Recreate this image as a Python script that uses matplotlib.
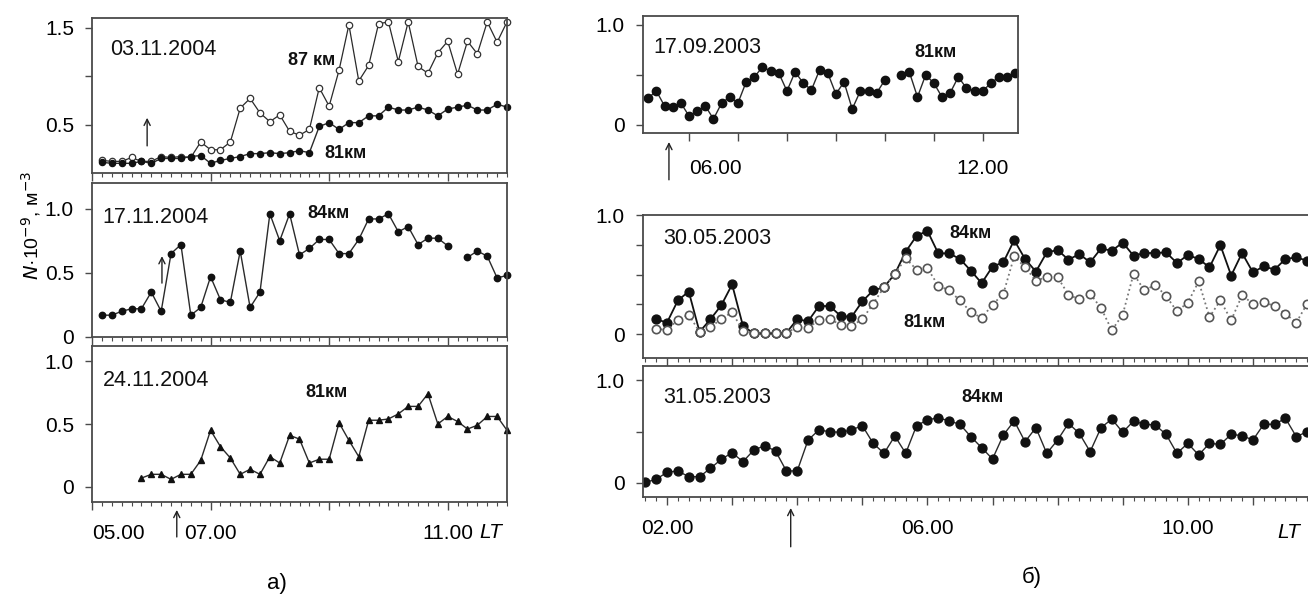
import matplotlib
matplotlib.use('Agg')
import matplotlib.pyplot as plt
import numpy as np

plt.rcParams['font.family'] = ['Liberation Sans', 'DejaVu Sans']

W, H = 1308, 598

# ---- data (times in minutes after midnight, LT) ----
t_0311 = [310, 320, 330, 340, 350, 360, 370, 380, 390, 400, 410, 420, 430, 440,
          450, 460, 470, 480, 490, 500, 510, 520, 530, 540, 550, 560, 570, 580,
          590, 600, 610, 620, 630, 640, 650, 660, 670, 680, 690, 700, 710, 720]
n87_0311 = [0.13, 0.12, 0.12, 0.16, 0.12, 0.12, 0.17, 0.16, 0.17, 0.16, 0.32, 0.24,
            0.24, 0.32, 0.67, 0.77, 0.62, 0.53, 0.60, 0.43, 0.39, 0.45, 0.88, 0.69,
            1.06, 1.53, 0.95, 1.11, 1.54, 1.56, 1.15, 1.56, 1.10, 1.03, 1.24, 1.36,
            1.02, 1.36, 1.23, 1.56, 1.35, 1.56]
n81_0311 = [0.11, 0.10, 0.10, 0.10, 0.12, 0.10, 0.15, 0.15, 0.15, 0.17, 0.18, 0.10,
            0.13, 0.15, 0.17, 0.20, 0.20, 0.21, 0.20, 0.21, 0.23, 0.21, 0.48, 0.52,
            0.45, 0.52, 0.52, 0.59, 0.59, 0.68, 0.65, 0.65, 0.68, 0.65, 0.59, 0.66,
            0.68, 0.70, 0.65, 0.65, 0.71, 0.68]

t_1711 = [310, 320, 330, 340, 350, 360, 370, 380, 390, 400, 410, 420, 430, 440,
          450, 460, 470, 480, 490, 500, 510, 520, 530, 540, 550, 560, 570, 580,
          590, 600, 610, 620, 630, 640, 650, 660, 680, 690, 700, 710, 720]
n84_1711 = [0.17, 0.17, 0.20, 0.22, 0.22, 0.35, 0.20, 0.65, 0.72, 0.17, 0.23, 0.47,
            0.29, 0.27, 0.67, 0.23, 0.35, 0.96, 0.75, 0.96, 0.64, 0.69, 0.76, 0.76,
            0.65, 0.65, 0.76, 0.92, 0.92, 0.96, 0.82, 0.86, 0.72, 0.77, 0.77, 0.71,
            0.62, 0.67, 0.63, 0.46, 0.48]

t_2411 = [350, 360, 370, 380, 390, 400, 410, 420, 430, 440, 450, 460, 470, 480,
          490, 500, 510, 520, 530, 540, 550, 560, 570, 580, 590, 600, 610, 620,
          630, 640, 650, 660, 670, 680, 690, 700, 710, 720]
n81_2411 = [0.07, 0.10, 0.10, 0.06, 0.10, 0.10, 0.21, 0.45, 0.32, 0.23, 0.10, 0.14,
            0.10, 0.24, 0.19, 0.41, 0.38, 0.19, 0.22, 0.22, 0.51, 0.37, 0.24, 0.53,
            0.53, 0.54, 0.58, 0.64, 0.64, 0.74, 0.50, 0.56, 0.52, 0.46, 0.49, 0.56,
            0.56, 0.45]

t_1709 = [310, 320, 330, 340, 350, 360, 370, 380, 390, 400, 410, 420, 430, 440,
          450, 460, 470, 480, 490, 500, 510, 520, 530, 540, 550, 560, 570, 580,
          590, 600, 620, 630, 640, 650, 660, 670, 680, 690, 700, 710, 720, 730,
          740, 750, 760]
n81_1709 = [0.27, 0.34, 0.19, 0.18, 0.22, 0.09, 0.14, 0.19, 0.06, 0.22, 0.28, 0.22,
            0.43, 0.48, 0.58, 0.54, 0.52, 0.34, 0.53, 0.42, 0.35, 0.55, 0.52, 0.31,
            0.43, 0.16, 0.34, 0.34, 0.32, 0.45, 0.50, 0.53, 0.28, 0.50, 0.42, 0.28,
            0.32, 0.48, 0.37, 0.34, 0.34, 0.42, 0.48, 0.48, 0.52]

t_3005 = [110, 120, 130, 140, 150, 160, 170, 180, 190, 200, 210, 220, 230, 240,
          250, 260, 270, 280, 290, 300, 310, 320, 330, 340, 350, 360, 370, 380,
          390, 400, 410, 420, 430, 440, 450, 460, 470, 480, 490, 500, 510, 520,
          530, 540, 550, 560, 570, 580, 590, 600, 610, 620, 630, 640, 650, 660,
          670, 680, 690, 700, 710]
n84_3005 = [0.125, 0.097, 0.283, 0.358, 0.019, 0.125, 0.242, 0.417, 0.069, 0.006,
            0.006, 0.006, 0.011, 0.125, 0.108, 0.236, 0.236, 0.153, 0.144, 0.275,
            0.367, 0.394, 0.506, 0.692, 0.825, 0.867, 0.678, 0.678, 0.631, 0.533,
            0.428, 0.567, 0.603, 0.789, 0.631, 0.525, 0.686, 0.706, 0.625, 0.672,
            0.603, 0.719, 0.700, 0.769, 0.658, 0.681, 0.681, 0.686, 0.597, 0.664,
            0.631, 0.561, 0.747, 0.492, 0.681, 0.519, 0.569, 0.542, 0.631, 0.644,
            0.617]
n81_3005 = [0.047, 0.033, 0.122, 0.164, 0.019, 0.061, 0.125, 0.186, 0.025, 0.006,
            0.006, 0.006, 0.011, 0.061, 0.053, 0.117, 0.125, 0.081, 0.069, 0.125,
            0.256, 0.394, 0.506, 0.636, 0.542, 0.553, 0.408, 0.367, 0.283, 0.186,
            0.136, 0.247, 0.339, 0.653, 0.561, 0.450, 0.478, 0.478, 0.331, 0.292,
            0.339, 0.219, 0.033, 0.164, 0.506, 0.367, 0.414, 0.319, 0.192, 0.264,
            0.442, 0.144, 0.283, 0.117, 0.325, 0.256, 0.269, 0.236, 0.172, 0.097,
            0.256]

t_3105 = [100, 110, 120, 130, 140, 150, 160, 170, 180, 190, 200, 210, 220, 230,
          240, 250, 260, 270, 280, 290, 300, 310, 320, 330, 340, 350, 360, 370,
          380, 390, 400, 410, 420, 430, 440, 450, 460, 470, 480, 490, 500, 510,
          520, 530, 540, 550, 560, 570, 580, 590, 600, 610, 620, 630, 640, 650,
          660, 670, 680, 690, 700, 710]
n84_3105 = [0.006, 0.036, 0.104, 0.117, 0.061, 0.061, 0.142, 0.230, 0.294, 0.207,
            0.320, 0.362, 0.311, 0.117, 0.117, 0.417, 0.515, 0.498, 0.492, 0.515,
            0.557, 0.385, 0.288, 0.456, 0.288, 0.557, 0.612, 0.634, 0.602, 0.570,
            0.450, 0.343, 0.233, 0.466, 0.602, 0.401, 0.537, 0.288, 0.417, 0.579,
            0.482, 0.304, 0.537, 0.621, 0.492, 0.602, 0.570, 0.563, 0.472, 0.288,
            0.385, 0.272, 0.385, 0.375, 0.472, 0.460, 0.417, 0.570, 0.570, 0.628,
            0.450, 0.498]

# arrow times (hours)
arr_0311, arr_1711, arr_2411 = 5.93, 6.18, 6.43
arr_1709, arr_3105 = 5.59, 3.90


def hrs(t):
    return np.array(t) / 60.0


def rect(x0, y0, x1, y1):
    return [x0 / W, 1 - y1 / H, (x1 - x0) / W, (y1 - y0) / H]


FS = 15
DS = 15.5
KS = 13
LC = '#2a2a2a'
SC = '#4a4a4a'

fig = plt.figure(figsize=(W / 100, H / 100), dpi=100)


def frame(ax, xlim, ylim, xmaj, xminor, yticks, ylabels, xlabels=None, xpad=10):
    ax.set_xlim(*xlim)
    ax.set_ylim(*ylim)
    for s in ax.spines.values():
        s.set_color(SC)
        s.set_linewidth(1.3)
    ax.set_xticks(xmaj)
    if xminor is not None:
        ax.set_xticks(xminor, minor=True)
    ax.set_xticklabels(xlabels if xlabels else [''] * len(xmaj))
    ax.set_yticks(yticks)
    ax.set_yticklabels(ylabels)
    ax.tick_params(axis='x', which='major', direction='out', length=6, width=1,
                   color=SC, labelsize=FS, pad=xpad)
    ax.tick_params(axis='x', which='minor', direction='out', length=3, width=0.8,
                   color=SC)
    ax.tick_params(axis='y', which='major', direction='out', length=5, width=1,
                   color=SC, labelsize=FS, pad=8)


def label(ax, x, y, s, size=DS, ha='left', bold=False):
    ax.text(x, y, s, transform=ax.transAxes, ha=ha, va='center', fontsize=size,
            fontweight='bold' if bold else 'normal', color='#111')


def arrow(ax, x, y0, y1, frac=False):
    coords = ('data', 'axes fraction') if frac else 'data'
    ax.annotate('', xy=(x, y1), xytext=(x, y0), xycoords=coords, textcoords=coords,
                annotation_clip=False,
                arrowprops=dict(arrowstyle='->', lw=1.0, color='#222',
                                shrinkA=0, shrinkB=0, mutation_scale=11))


ten_min_left = np.arange(5, 12.001, 1 / 6)

# ---- a) left column ----
ax1 = fig.add_axes(rect(92, 18, 507, 173))
frame(ax1, (5, 12), (0, 1.6), [5, 7, 9, 11], ten_min_left, [0.5, 1.0, 1.5],
      ['0.5', '', '1.5'])
ax1.plot(hrs(t_0311), n87_0311, '-', color=LC, lw=0.9, marker='o', ms=4.6,
         mfc='white', mec='#333', mew=0.9, clip_on=False)
ax1.plot(hrs(t_0311), n81_0311, '-', color=LC, lw=1.0, marker='o', ms=4.4,
         mfc='#111', mec='#111', clip_on=False)
label(ax1, 0.043, 0.794, '03.11.2004')
label(ax1, 0.53, 0.729, '87 км', size=KS, ha='center', bold=True)
label(ax1, 0.61, 0.129, '81км', size=KS, ha='center', bold=True)
arrow(ax1, arr_0311, 0.28, 0.57)

ax2 = fig.add_axes(rect(92, 183, 507, 337))
frame(ax2, (5, 12), (0, 1.2), [5, 7, 9, 11], ten_min_left, [0, 0.5, 1.0],
      ['0', '0.5', '1.0'])
ax2.plot(hrs(t_1711[:36]), n84_1711[:36], '-', color=LC, lw=1.0, marker='o',
         ms=4.6, mfc='#111', mec='#111', clip_on=False)
ax2.plot(hrs(t_1711[36:]), n84_1711[36:], '-', color=LC, lw=1.0, marker='o',
         ms=4.6, mfc='#111', mec='#111', clip_on=False)
label(ax2, 0.024, 0.779, '17.11.2004')
label(ax2, 0.569, 0.805, '84км', size=KS, ha='center', bold=True)
arrow(ax2, arr_1711, 0.42, 0.63)

ax3 = fig.add_axes(rect(92, 346, 507, 502))
frame(ax3, (5, 12), (-0.12, 1.12), [5, 7, 9, 11], ten_min_left, [0, 0.5, 1.0],
      ['0', '0.5', '1.0'], ['05.00', '07.00', '', '11.00'])
ax3.get_xticklabels()[0].set_ha('left')
ax3.plot(hrs(t_2411), n81_2411, '-', color=LC, lw=1.0, marker='^', ms=4.6,
         mfc='#111', mec='#111', clip_on=False)
label(ax3, 0.027, 0.782, '24.11.2004')
label(ax3, 0.564, 0.699, '81км', size=KS, ha='center', bold=True)
arrow(ax3, arr_2411, -0.224, -0.051, frac=True)

# ---- б) right column ----
ax4 = fig.add_axes(rect(643, 16, 1018, 133))
frame(ax4, (5.06, 12.72), (-0.08, 1.09), [6, 7, 8, 9, 10, 11, 12], None,
      [0, 0.5, 1.0], ['0', '', '1.0'], ['06.00', '', '', '', '', '', '12.00'],
      xpad=13)
ax4.get_xticklabels()[0].set_ha('left')
ax4.plot(hrs(t_1709[:30]), n81_1709[:30], '-', color=LC, lw=1.0, marker='o',
         ms=6.0, mfc='#111', mec='#111')
ax4.plot(hrs(t_1709[30:]), n81_1709[30:], '-', color=LC, lw=1.0, marker='o',
         ms=6.0, mfc='#111', mec='#111')
label(ax4, 0.027, 0.735, '17.09.2003')
label(ax4, 0.781, 0.684, '81км', size=KS, ha='center', bold=True)
arrow(ax4, arr_1709, -0.40, -0.077, frac=True)

hours_r = [2, 3, 4, 5, 6, 7, 8, 9, 10, 11]
ten_min_right = np.arange(1 + 4 / 6, 11.95, 1 / 6)

ax5 = fig.add_axes(rect(643, 215, 1312, 358))
frame(ax5, (1.631, 11.908), (-0.2, 1.0), hours_r, ten_min_right,
      [0, 0.25, 0.5, 0.75, 1.0], ['0', '', '', '', '1.0'])
ax5.plot(hrs(t_3005), n84_3005, '-', color='#111', lw=1.3, marker='o', ms=6.4,
         mfc='#111', mec='#111', zorder=2)
ax5.plot(hrs(t_3005), n81_3005, ':', color='#777', lw=1.3, marker='o', ms=6.0,
         mfc='white', mec='#555', mew=1.2, zorder=3)
label(ax5, 0.030, 0.839, '30.05.2003')
label(ax5, 0.49, 0.874, '84км', size=KS, ha='center', bold=True)
label(ax5, 0.4215, 0.245, '81км', size=KS, ha='center', bold=True)

ax6 = fig.add_axes(rect(643, 366, 1312, 497))
frame(ax6, (1.631, 11.908), (-0.136, 1.136), hours_r, ten_min_right,
      [0, 0.5, 1.0], ['0', '', '1.0'],
      ['02.00', '', '', '', '06.00', '', '', '', '10.00', ''])
ax6.plot(hrs(t_3105), n84_3105, '-', color=LC, lw=1.0, marker='o', ms=6.4,
         mfc='#111', mec='#111')
label(ax6, 0.030, 0.763, '31.05.2003')
label(ax6, 0.508, 0.763, '84км', size=KS, ha='center', bold=True)
arrow(ax6, arr_3105, -0.38, -0.084, frac=True)

# ---- figure-level texts ----
fig.text(31 / W, 1 - 225 / H, r'$N$·10$^{-9}$, м$^{-3}$', rotation=90,
         ha='center', va='center', fontsize=14)
fig.text(491 / W, 1 - 532 / H, 'LT', style='italic', ha='center', va='center',
         fontsize=FS)
fig.text(1289 / W, 1 - 532 / H, 'LT', style='italic', ha='center', va='center',
         fontsize=FS)
fig.text(277 / W, 1 - 583 / H, 'а)', ha='center', va='center', fontsize=16)
fig.text(1032 / W, 1 - 577 / H, 'б)', ha='center', va='center', fontsize=16)

fig.savefig('out.png', dpi=100)
